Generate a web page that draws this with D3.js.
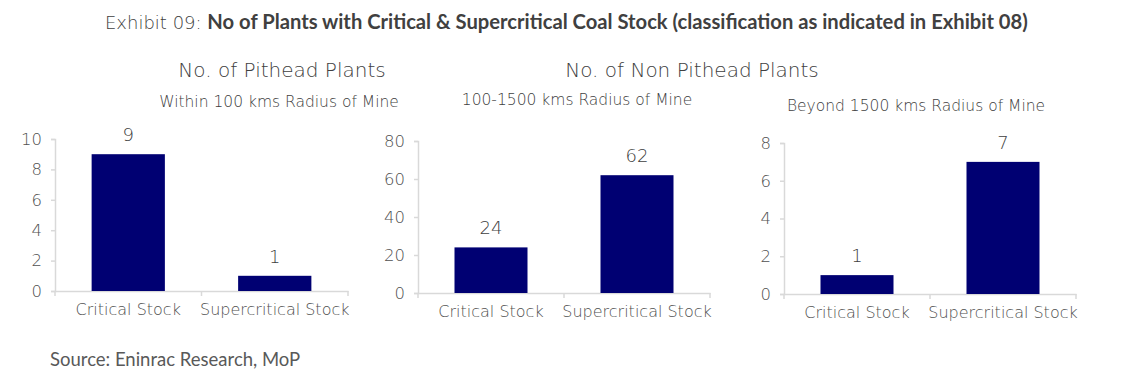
<!DOCTYPE html>
<html><head><meta charset="utf-8">
<script src="https://cdn.jsdelivr.net/npm/d3@7/dist/d3.min.js"></script>
<style>
html,body{margin:0;padding:0;background:#fff;}
svg{display:block;}
</style></head>
<body>
<svg id="chart" width="1140" height="387"></svg>
<script>
const categories = ["Critical Stock", "Supercritical Stock"];
const pitheadValues = [9, 1];
const midRangeValues = [24, 62];
const farRangeValues = [1, 7];
const pitheadTicks = [0, 2, 4, 6, 8, 10];
const midRangeTicks = [0, 20, 40, 60, 80];
const farRangeTicks = [0, 2, 4, 6, 8];
const panelSubtitles = ["Within 100 kms Radius of Mine", "100-1500 kms Radius of Mine", "Beyond 1500 kms Radius of Mine"];
const groupTitles = ["No. of Pithead Plants", "No. of Non Pithead Plants"];

const svg = d3.select("#chart");
const FONT = "'DejaVu Sans', sans-serif";
const GILL = "Lato, 'Open Sans', sans-serif";
const textCol = "#505050";
const darkCol = "#404040";
const barCol = "#000072";
const axisCol = "#d9d9d9";

// Title
const t = svg.append("text").attr("x", 105).attr("y", 29)
  .attr("fill", darkCol);
t.append("tspan").style("font-family", FONT).style("font-size", "18px").attr("font-weight", 200).text("Exhibit 09: ");
t.append("tspan").style("font-family", GILL).style("font-size", "20.2px").attr("font-weight", 700)
  .text("No of Plants with Critical & Supercritical Coal Stock (classification as indicated in Exhibit 08)");

svg.append("text").attr("x", 282).attr("y", 77).attr("text-anchor", "middle")
  .style("font-family", FONT).style("font-size", "20px").attr("font-weight", 200).attr("fill", darkCol).text(groupTitles[0]);
svg.append("text").attr("x", 692).attr("y", 77).attr("text-anchor", "middle")
  .style("font-family", FONT).style("font-size", "20px").attr("font-weight", 200).attr("fill", darkCol).text(groupTitles[1]);

const panels = [
  {values: pitheadValues, ticks: pitheadTicks, max: 10, x0: 55, x1: 348, y0: 291, y1: 139, sub: panelSubtitles[0], subX: 279, subY: 107},
  {values: midRangeValues, ticks: midRangeTicks, max: 80, x0: 418, x1: 710, y0: 293, y1: 141, sub: panelSubtitles[1], subX: 577, subY: 105},
  {values: farRangeValues, ticks: farRangeTicks, max: 8, x0: 784, x1: 1076, y0: 294, y1: 143, sub: panelSubtitles[2], subX: 916, subY: 111}
];

panels.forEach(p => {
  const g = svg.append("g");
  const x = d3.scaleBand().domain(categories).range([p.x0, p.x1]).paddingInner(0.5).paddingOuter(0.25);
  const y = d3.scaleLinear().domain([0, p.max]).range([p.y0, p.y1]);

  g.append("text").attr("x", p.subX).attr("y", p.subY).attr("text-anchor", "middle")
    .style("font-family", FONT).style("font-size", "15.5px").attr("font-weight", 200).attr("fill", darkCol).text(p.sub);

  // y axis
  const ya = d3.axisLeft(y).tickValues(p.ticks).tickSize(4).tickPadding(9).tickFormat(d3.format("d"));
  const yg = g.append("g").attr("transform", `translate(${p.x0},0)`).call(ya);
  yg.select(".domain").attr("stroke", axisCol).attr("stroke-width", 1.5);
  yg.selectAll(".tick line").attr("stroke", axisCol).attr("stroke-width", 1.5);
  yg.selectAll(".tick text").style("font-family", FONT).style("font-size", "16.5px").attr("font-weight", 200).attr("fill", textCol);

  // x axis
  const xa = d3.axisBottom(x).tickSize(0).tickPadding(13);
  const xg = g.append("g").attr("transform", `translate(0,${p.y0})`).call(xa);
  xg.select(".domain").attr("stroke", axisCol).attr("stroke-width", 1.5);
  xg.selectAll(".tick text").style("font-family", FONT).style("font-size", "16px").attr("font-weight", 200).attr("fill", textCol);
  // category boundary ticks
  const bounds = [p.x0, (p.x0 + p.x1) / 2, p.x1];
  xg.selectAll(".bnd").data(bounds).enter().append("line")
    .attr("x1", d => d).attr("x2", d => d).attr("y1", 0).attr("y2", 5)
    .attr("stroke", axisCol).attr("stroke-width", 1.5);

  // bars
  g.selectAll(".bar").data(p.values).enter().append("rect")
    .attr("x", (d, i) => x(categories[i])).attr("width", x.bandwidth())
    .attr("y", d => y(d)).attr("height", d => y(0) - y(d)).attr("fill", barCol);

  // labels
  g.selectAll(".lbl").data(p.values).enter().append("text")
    .attr("x", (d, i) => x(categories[i]) + x.bandwidth() / 2).attr("y", d => y(d) - 13)
    .attr("text-anchor", "middle").style("font-family", FONT).style("font-size", "18px").attr("font-weight", 200)
    .attr("fill", darkCol).text(d => d);
});

svg.append("text").attr("x", 50).attr("y", 366).style("font-family", GILL).style("font-size", "18.5px")
  .attr("fill", "#595959").text("Source: Eninrac Research, MoP");
</script>
</body></html>
